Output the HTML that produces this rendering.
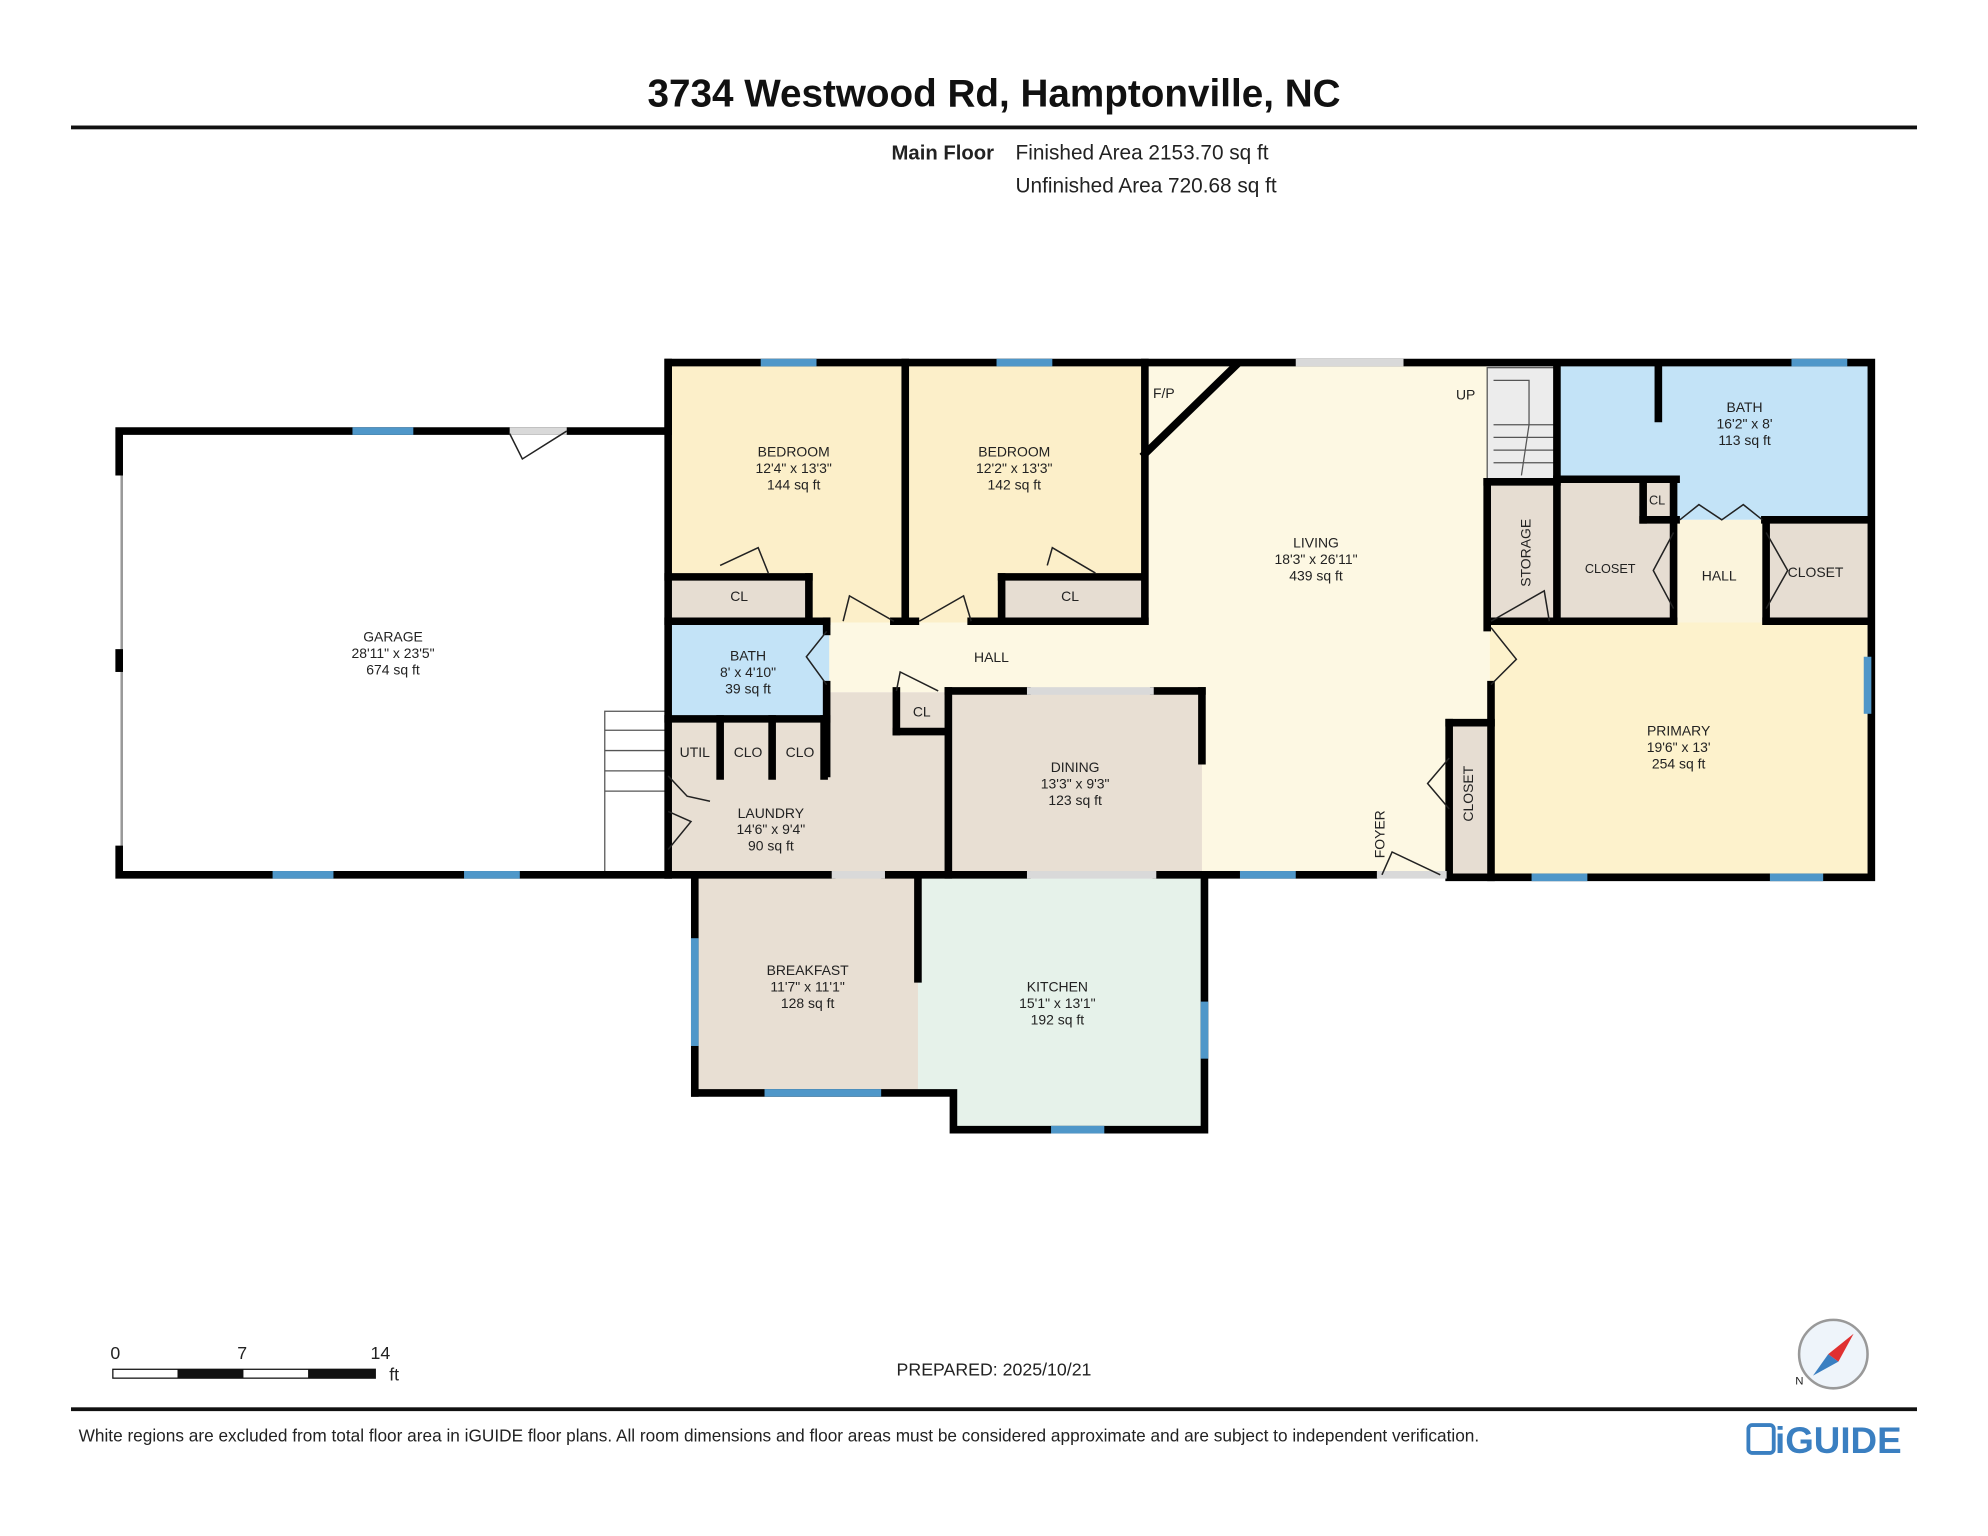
<!DOCTYPE html>
<html><head><meta charset="utf-8"><style>
html,body{margin:0;padding:0;background:#fff;}
svg{display:block;}
text{font-family:"Liberation Sans",Arial,sans-serif;fill:#222;}
.l{font-size:11px;text-anchor:middle;}
.w{stroke:#000;stroke-width:6;stroke-linecap:square;fill:none;}
.win{fill:#4f97c9;}
.gap{fill:#d9d9d9;}
.d{stroke:#222;stroke-width:1.2;fill:none;}
</style></head><body>
<svg width="1988" height="1536" viewBox="0 0 1568 1211.5" xmlns="http://www.w3.org/2000/svg">
<text x="784" y="84" style="font-size:30.5px;font-weight:bold;text-anchor:middle;fill:#111">3734 Westwood Rd, Hamptonville, NC</text>
<rect x="56" y="99" width="1456" height="3" fill="#111"/>
<text x="784" y="126" style="font-size:16px;font-weight:bold;text-anchor:end">Main Floor</text>
<text x="801" y="126" style="font-size:16.4px">Finished Area 2153.70 sq ft</text>
<text x="801" y="152" style="font-size:16.4px">Unfinished Area 720.68 sq ft</text>

<rect x="94" y="340" width="433" height="350" fill="#fff"/>
<rect x="527" y="288" width="188" height="203" fill="#fcefc9"/>
<rect x="715" y="288" width="190" height="203" fill="#fcefc9"/>
<rect x="903" y="288" width="272" height="402" fill="#fdf8e3"/>
<rect x="652" y="491" width="252" height="55" fill="#fdf8e3"/>
<polygon points="903,288 975,288 903,358" fill="#fdf8e3"/>
<rect x="1173" y="288" width="55" height="92" fill="#ececec"/>
<rect x="1228" y="288" width="245" height="122" fill="#c3e3f7"/>
<rect x="1228" y="378" width="92" height="112" fill="#e6ddd2"/>
<rect x="1320" y="410" width="73" height="83" fill="#fbf4dc"/>
<rect x="1393" y="410" width="80" height="80" fill="#e6ddd2"/>
<rect x="1173" y="380" width="55" height="110" fill="#e6ddd2"/>
<rect x="1296" y="378" width="26" height="32" fill="#e6ddd2"/>
<rect x="1175" y="491" width="298" height="199" fill="#fdf2cc"/>
<rect x="1143" y="570" width="30" height="120" fill="#e6ddd2"/>
<rect x="527" y="455" width="111" height="36" fill="#e6ddd2"/>
<rect x="790" y="455" width="113" height="36" fill="#e6ddd2"/>
<rect x="527" y="546" width="221" height="144" fill="#e8dfd3"/>
<rect x="527" y="491" width="127" height="74" fill="#c3e3f7"/>
<rect x="748" y="546" width="200" height="144" fill="#e8dfd3"/>
<rect x="548" y="690" width="178" height="172" fill="#e8dfd3"/>
<polygon points="724,690 950,690 950,891 752,891 752,862 724,862" fill="#e6f2ea"/>

<g stroke="#555" stroke-width="1" fill="none">
<rect x="1173" y="290" width="55" height="90"/>
<line x1="1178" y1="335" x2="1228" y2="335"/><line x1="1178" y1="345" x2="1228" y2="345"/><line x1="1178" y1="355" x2="1228" y2="355"/><line x1="1178" y1="365" x2="1228" y2="365"/>
<polyline points="1178,300 1206,300 1206,335 1200,375"/>
<rect x="477" y="561" width="50" height="129"/>
<line x1="477" y1="576" x2="527" y2="576"/><line x1="477" y1="592" x2="527" y2="592"/><line x1="477" y1="608" x2="527" y2="608"/><line x1="477" y1="624" x2="527" y2="624"/>
<line x1="96" y1="372" x2="96" y2="670" stroke="#999" stroke-width="2"/>
</g>

<g class="w">
<polyline points="94,372 94,340 527,340"/>
<polyline points="94,670 94,690 527,690"/>
<line x1="94" y1="515" x2="94" y2="527"/>
<polyline points="527,340 527,286 1476,286 1476,692 1143,692"/>
<line x1="527" y1="286" x2="527" y2="690"/>
<line x1="714" y1="286" x2="714" y2="490"/>
<line x1="903" y1="286" x2="903" y2="490"/>
<line x1="903" y1="358" x2="975" y2="288"/>
<line x1="527" y1="490" x2="652" y2="490"/><line x1="705" y1="490" x2="722" y2="490"/><line x1="766" y1="490" x2="903" y2="490"/>
<line x1="527" y1="455" x2="638" y2="455"/><line x1="638" y1="455" x2="638" y2="490"/>
<line x1="790" y1="455" x2="900" y2="455"/><line x1="790" y1="455" x2="790" y2="490"/>
<line x1="652" y1="490" x2="652" y2="498"/><line x1="652" y1="540" x2="652" y2="610"/>
<line x1="527" y1="567" x2="652" y2="567"/>
<line x1="568" y1="567" x2="568" y2="612"/><line x1="609" y1="567" x2="609" y2="612"/><line x1="650" y1="567" x2="650" y2="612"/>
<line x1="707" y1="545" x2="707" y2="577"/><line x1="707" y1="577" x2="746" y2="577"/>
<line x1="748" y1="545" x2="810" y2="545"/><line x1="910" y1="545" x2="948" y2="545"/>
<line x1="748" y1="545" x2="748" y2="690"/>
<line x1="948" y1="545" x2="948" y2="600"/>
<line x1="527" y1="690" x2="656" y2="690"/><line x1="698" y1="690" x2="810" y2="690"/><line x1="912" y1="690" x2="1084" y2="690"/>
<line x1="1173" y1="380" x2="1173" y2="495"/><line x1="1176" y1="540" x2="1176" y2="570"/>
<line x1="1173" y1="380" x2="1228" y2="380"/>
<line x1="1228" y1="290" x2="1228" y2="490"/>
<line x1="1308" y1="290" x2="1308" y2="330"/>
<line x1="1228" y1="378" x2="1322" y2="378"/><line x1="1296" y1="378" x2="1296" y2="410"/><line x1="1296" y1="410" x2="1322" y2="410"/>
<line x1="1320" y1="378" x2="1320" y2="490"/>
<line x1="1392" y1="410" x2="1473" y2="410"/><line x1="1393" y1="410" x2="1393" y2="490"/>
<line x1="1176" y1="490" x2="1320" y2="490"/><line x1="1393" y1="490" x2="1473" y2="490"/>
<line x1="1143" y1="570" x2="1173" y2="570"/><line x1="1143" y1="570" x2="1143" y2="690"/>
<line x1="1176" y1="570" x2="1176" y2="692"/>
<line x1="548" y1="690" x2="548" y2="862"/>
<polyline points="548,862 752,862 752,891 950,891 950,690"/>
<line x1="724" y1="693" x2="724" y2="772"/>
</g>
<rect x="1022" y="283" width="85" height="6" class="gap"/>
<rect x="656" y="687" width="42" height="6" class="gap"/>
<rect x="810" y="687" width="102" height="6" class="gap"/>
<rect x="810" y="542" width="100" height="6" class="gap"/>
<rect x="1086" y="687" width="55" height="6" class="gap"/>
<rect x="402" y="337" width="45" height="6" class="gap"/>
<rect x="600" y="283" width="44" height="6" class="win"/>
<rect x="786" y="283" width="44" height="6" class="win"/>
<rect x="1413" y="283" width="44" height="6" class="win"/>
<rect x="278" y="337" width="48" height="6" class="win"/>
<rect x="215" y="687" width="48" height="6" class="win"/>
<rect x="366" y="687" width="44" height="6" class="win"/>
<rect x="978" y="687" width="44" height="6" class="win"/>
<rect x="1208" y="689" width="44" height="6" class="win"/>
<rect x="1396" y="689" width="42" height="6" class="win"/>
<rect x="1470" y="518" width="6" height="45" class="win"/>
<rect x="545" y="740" width="6" height="85" class="win"/>
<rect x="603" y="859" width="92" height="6" class="win"/>
<rect x="829" y="888" width="42" height="6" class="win"/>
<rect x="947" y="790" width="6" height="45" class="win"/>
<g class="d">
<polyline points="402,342 412,362 447,340"/>
<polyline points="568,446 598,432 606,452"/>
<polyline points="826,446 830,432 864,452"/>
<polyline points="665,490 670,470 705,490"/>
<polyline points="725,490 760,470 766,490"/>
<polyline points="652,498 636,518 652,540"/>
<polyline points="707,545 710,530 740,545"/>
<polyline points="1176,495 1196,520 1176,540"/>
<polyline points="1143,598 1126,618 1143,638"/>
<polyline points="1090,690 1098,672 1136,690"/>
<polyline points="1176,490 1218,466 1222,490"/>
<polyline points="1320,420 1304,450 1320,480"/>
<polyline points="1393,420 1410,450 1393,480"/>
<polyline points="1325,410 1340,398 1358,410 1375,398 1390,410"/>
<polyline points="527,612 542,628 560,632"/>
<polyline points="527,640 545,648 527,670"/>
</g>
<text x="310" y="506" class="l">GARAGE</text><text x="310" y="519" class="l">28'11" x 23'5"</text><text x="310" y="532" class="l">674 sq ft</text>
<text x="626" y="360" class="l">BEDROOM</text><text x="626" y="373" class="l">12'4" x 13'3"</text><text x="626" y="386" class="l">144 sq ft</text>
<text x="800" y="360" class="l">BEDROOM</text><text x="800" y="373" class="l">12'2" x 13'3"</text><text x="800" y="386" class="l">142 sq ft</text>
<text x="583" y="474" class="l">CL</text><text x="844" y="474" class="l">CL</text>
<text x="918" y="314" class="l">F/P</text><text x="1156" y="315" class="l">UP</text>
<text x="1038" y="432" class="l">LIVING</text><text x="1038" y="445" class="l">18'3" x 26'11"</text><text x="1038" y="458" class="l">439 sq ft</text>
<text x="782" y="522" class="l">HALL</text>
<text x="1376" y="325" class="l">BATH</text><text x="1376" y="338" class="l">16'2" x 8'</text><text x="1376" y="351" class="l">113 sq ft</text>
<text x="1307" y="398" class="l" style="font-size:10px">CL</text>
<text x="1270" y="452" class="l" style="font-size:10px">CLOSET</text>
<text x="1356" y="458" class="l">HALL</text>
<text x="1432" y="455" class="l">CLOSET</text>
<text x="1207" y="436" class="l" transform="rotate(-90 1207 436)">STORAGE</text>
<text x="1162" y="626" class="l" transform="rotate(-90 1162 626)">CLOSET</text>
<text x="1092" y="658" class="l" transform="rotate(-90 1092 658)">FOYER</text>
<text x="1324" y="580" class="l">PRIMARY</text><text x="1324" y="593" class="l">19'6" x 13'</text><text x="1324" y="606" class="l">254 sq ft</text>
<text x="590" y="521" class="l">BATH</text><text x="590" y="534" class="l">8' x 4'10"</text><text x="590" y="547" class="l">39 sq ft</text>
<text x="548" y="597" class="l">UTIL</text><text x="590" y="597" class="l">CLO</text><text x="631" y="597" class="l">CLO</text>
<text x="727" y="565" class="l">CL</text>
<text x="608" y="645" class="l">LAUNDRY</text><text x="608" y="658" class="l">14'6" x 9'4"</text><text x="608" y="671" class="l">90 sq ft</text>
<text x="848" y="609" class="l">DINING</text><text x="848" y="622" class="l">13'3" x 9'3"</text><text x="848" y="635" class="l">123 sq ft</text>
<text x="637" y="769" class="l">BREAKFAST</text><text x="637" y="782" class="l">11'7" x 11'1"</text><text x="637" y="795" class="l">128 sq ft</text>
<text x="834" y="782" class="l">KITCHEN</text><text x="834" y="795" class="l">15'1" x 13'1"</text><text x="834" y="808" class="l">192 sq ft</text>

<text x="91" y="1072" style="font-size:14px;text-anchor:middle">0</text>
<text x="191" y="1072" style="font-size:14px;text-anchor:middle">7</text>
<text x="300" y="1072" style="font-size:14px;text-anchor:middle">14</text>
<rect x="89" y="1080" width="207" height="7" fill="#fff" stroke="#111" stroke-width="1"/>
<rect x="140" y="1080" width="52" height="7" fill="#111"/><rect x="243" y="1080" width="53" height="7" fill="#111"/>
<text x="307" y="1089" style="font-size:14px">ft</text>
<text x="784" y="1085" style="font-size:14px;text-anchor:middle">PREPARED: 2025/10/21</text>
<circle cx="1446" cy="1068" r="27" fill="#eef4fa" stroke="#999" stroke-width="2"/>
<polygon points="1430,1085 1442,1068 1450,1074" fill="#3a7fc1"/>
<polygon points="1450,1074 1442,1068 1462,1052" fill="#e03030"/>
<text x="1416" y="1092" style="font-size:9px">N</text>
<rect x="56" y="1110" width="1456" height="3" fill="#111"/>
<text x="62" y="1137" style="font-size:13.6px">White regions are excluded from total floor area in iGUIDE floor plans. All room dimensions and floor areas must be considered approximate and are subject to independent verification.</text>
<rect x="1379" y="1124" width="20" height="22" rx="3" fill="none" stroke="#3a7fc1" stroke-width="3"/>
<text x="1400" y="1146" style="font-size:29px;font-weight:bold;fill:#3a7fc1">iGUIDE</text>
</svg>
</body></html>
